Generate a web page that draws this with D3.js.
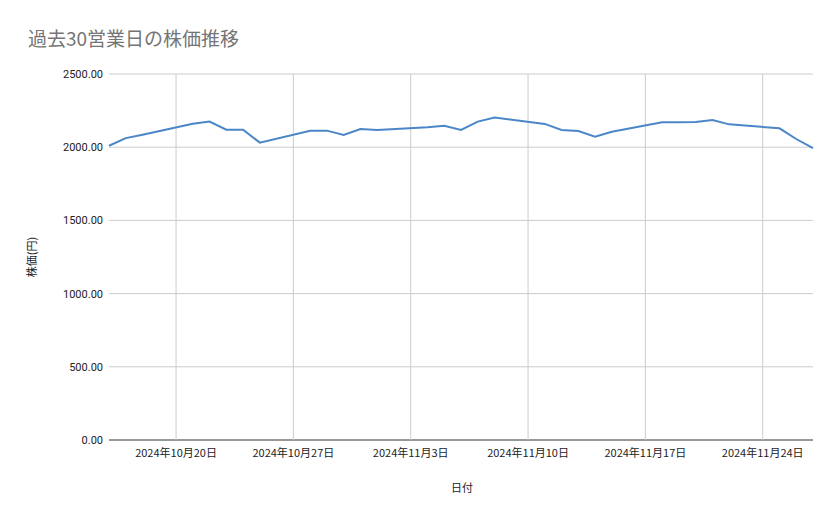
<!DOCTYPE html>
<html><head><meta charset="utf-8">
<script src="https://cdn.jsdelivr.net/npm/d3@7"></script>
<style>body{margin:0;background:#fff;font-family:"Noto Sans CJK JP","Noto Sans",sans-serif;}</style>
</head><body>
<script>
const dates = ["2024-10-16","2024-10-17","2024-10-18","2024-10-21","2024-10-22","2024-10-23","2024-10-24","2024-10-25",
  "2024-10-28","2024-10-29","2024-10-30","2024-10-31","2024-11-01","2024-11-04","2024-11-05","2024-11-06","2024-11-07","2024-11-08",
  "2024-11-11","2024-11-12","2024-11-13","2024-11-14","2024-11-15","2024-11-18","2024-11-19","2024-11-20","2024-11-21","2024-11-22",
  "2024-11-25","2024-11-26","2024-11-27"];
const prices = [2010,2062,2085,2160,2175,2120,2120,2031,2113,2113,2083,2124,2118,2136,2147,2118,2175,2202,
  2159,2118,2110,2072,2106,2170,2170,2172,2186,2156,2129,2056,1993];
const yTicks = [0,500,1000,1500,2000,2500];
const xTicks = ["2024-10-20","2024-10-27","2024-11-03","2024-11-10","2024-11-17","2024-11-24"];

const width=839, height=519;
const m={left:109,right:813,top:74,bottom:440};
const parse=d3.timeParse("%Y-%m-%d");
const data=dates.map((d,i)=>({date:parse(d),v:prices[i]}));

const svg=d3.select("body").append("svg").attr("width",width).attr("height",height);

const x=d3.scaleTime().domain([parse("2024-10-16"),parse("2024-11-27")]).range([m.left,m.right]);
const y=d3.scaleLinear().domain([0,2500]).range([m.bottom,m.top]);

svg.append("text").attr("x",28).attr("y",46).attr("font-size",19).attr("fill","#757575")
  .text("過去30営業日の株価推移");

svg.selectAll(".gy").data(yTicks).enter().append("line")
  .attr("x1",m.left).attr("x2",m.right).attr("y1",d=>y(d)).attr("y2",d=>y(d))
  .attr("stroke",d=>d===0?"#333":"#ccc").attr("stroke-width",1);
svg.selectAll(".ty").data(yTicks).enter().append("text")
  .attr("x",103).attr("y",d=>y(d)+4).attr("text-anchor","end").attr("font-size",11).attr("fill","#222")
  .attr("font-family","Roboto,sans-serif").text(d=>d3.format(".2f")(d));

svg.selectAll(".gx").data(xTicks).enter().append("line")
  .attr("x1",d=>x(parse(d))).attr("x2",d=>x(parse(d))).attr("y1",m.top).attr("y2",m.bottom)
  .attr("stroke","#ccc");
svg.selectAll(".tx").data(xTicks).enter().append("text")
  .attr("x",d=>x(parse(d))).attr("y",457).attr("text-anchor","middle").attr("font-size",11).attr("fill","#222")
  .text(d=>{const t=parse(d);return `${t.getFullYear()}年${t.getMonth()+1}月${t.getDate()}日`;});

svg.append("path").datum(data)
  .attr("d",d3.line().x(d=>x(d.date)).y(d=>y(d.v)))
  .attr("fill","none").attr("stroke","#4a86c8").attr("stroke-width",2);

svg.append("text").attr("x",462).attr("y",492).attr("text-anchor","middle").attr("font-size",11).attr("fill","#222").text("日付");
svg.append("text").attr("transform","translate(36,257) rotate(-90)").attr("text-anchor","middle")
  .attr("font-size",11).attr("fill","#222").text("株価(円)");
</script>
</body></html>
